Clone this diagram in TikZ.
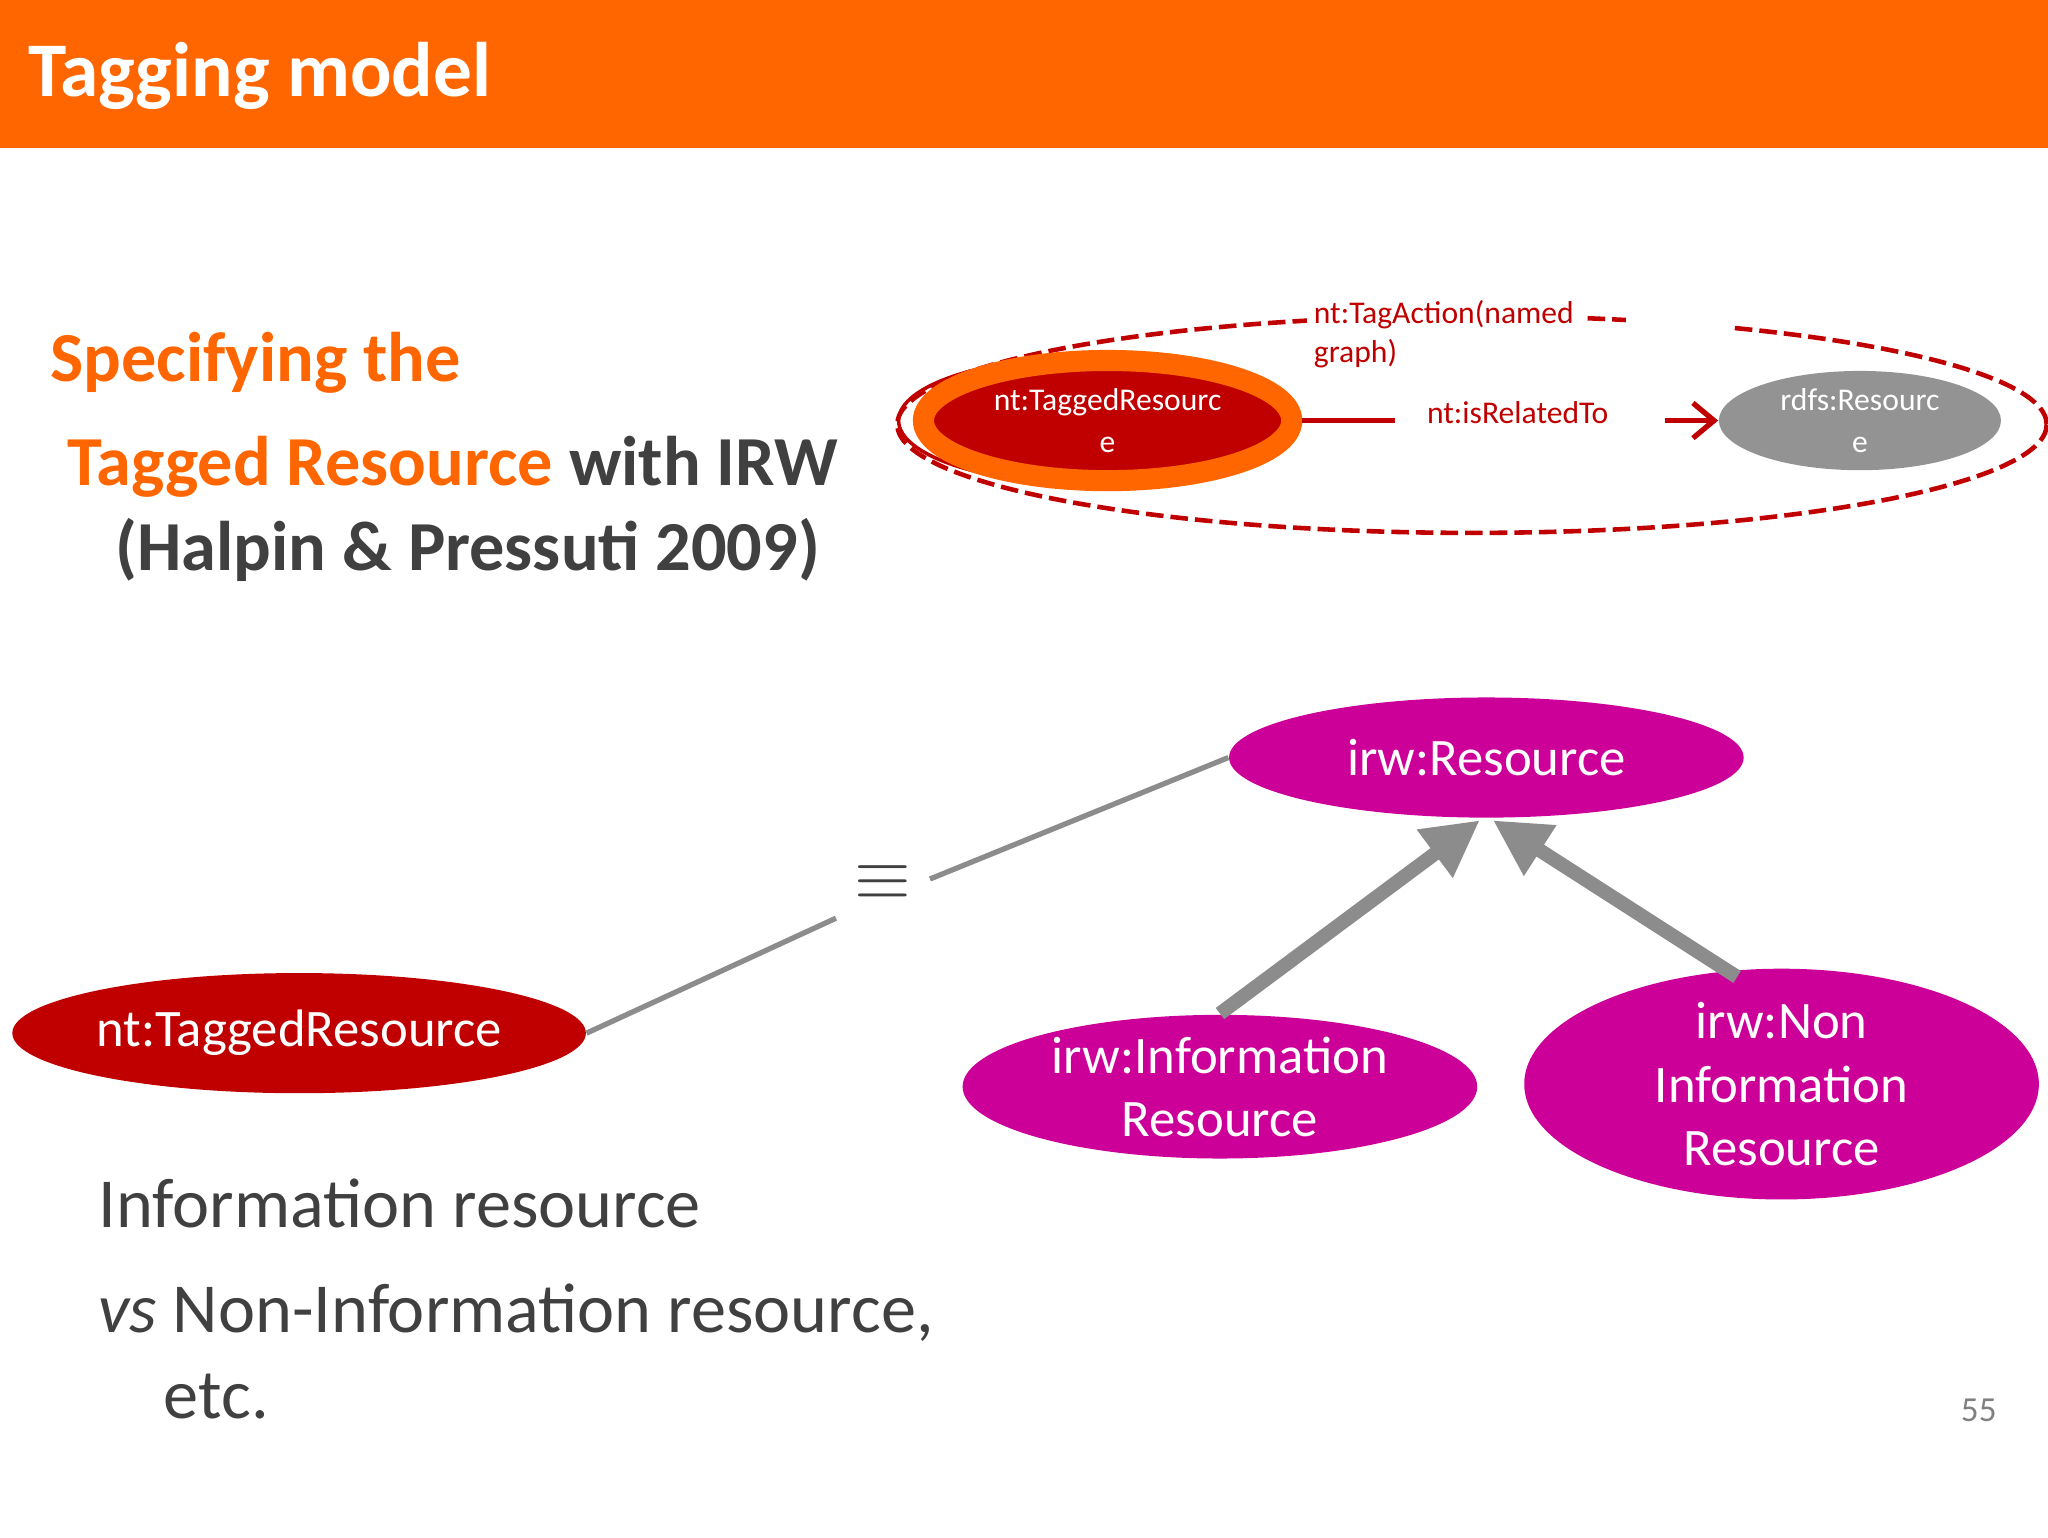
\documentclass[tikz,border=0pt]{standalone}
\usepackage{fontspec}
\setmainfont{Carlito}
\usetikzlibrary{shapes.geometric,arrows.meta}
\definecolor{slideorange}{HTML}{FF6600}
\definecolor{tagred}{HTML}{C00000}
\definecolor{irwpink}{HTML}{CC0099}
\definecolor{darktext}{HTML}{404040}
\tikzset{
  blob/.style={ellipse, draw=none, text=white, align=center, inner sep=0pt},
  tagtxt/.style={font=\fontsize{9}{11}\selectfont, text=tagred, align=left},
  subarrow/.style={draw=gray!90, line width=4pt, -{Triangle[length=16pt,width=16pt]}}
}
\begin{document}
\begin{tikzpicture}[x=0.01306cm, y=-0.01306cm]
  \useasboundingbox (0,0) rectangle (1568,1177);
  % header
  \fill[slideorange] (0,0) rectangle (1568,113);
  \node[anchor=west, text=white, font=\bfseries\fontsize{22}{26}\selectfont] (title) at (12,58) {Tagging model};
  % left text
  \node[anchor=base west, text=slideorange, font=\bfseries\fontsize{20}{24}\selectfont] (spec) at (29,292) {Specifying the};
  \node[anchor=base west, font=\bfseries\fontsize{20}{24}\selectfont] (tagged) at (42,372) {\textcolor{slideorange}{Tagged Resource} \textcolor{darktext}{with IRW}};
  \node[anchor=base west, text=darktext, font=\bfseries\fontsize{20}{24}\selectfont] (halpin) at (79,437) {(Halpin \& Pressuti 2009)};
  % named graph
  \draw[tagred, line width=1.3pt, dash pattern=on 5pt off 2pt] (1127,325) ellipse [x radius=440, y radius=83];
  \node[tagtxt, fill=white, anchor=north west, inner sep=2pt] (action) at (1000,224) {nt:TagAction(named\\graph)};
  \fill[white] (1245,225) rectangle (1325,262);
  \node[blob, draw=tagred, line width=1pt, fill=none, minimum width=300*0.01306cm, minimum height=98*0.01306cm] (shadowres) at (838,322) {};
  \node[blob, fill=tagred, draw=slideorange, line width=6pt, minimum width=282*0.01306cm, minimum height=92*0.01306cm, font=\fontsize{9}{12}\selectfont] (taggedres) at (848,322) {nt:TaggedResourc\\e};
  \node[blob, fill=gray!85, minimum width=216*0.01306cm, minimum height=76*0.01306cm, font=\fontsize{9}{12}\selectfont] (rdfsres) at (1424,322) {rdfs:Resourc\\e};
  \node[tagtxt] (related) at (1162,316) {nt:isRelatedTo};
  \draw[tagred, line width=1.5pt] (taggedres) -- (1068,322);
  \draw[tagred, line width=1.5pt, -{Straight Barb[length=6pt,width=10pt]}] (1275,322) -- (rdfsres);
  % irw hierarchy
  \node[blob, fill=irwpink, minimum width=394*0.01306cm, minimum height=92*0.01306cm, font=\fontsize{15}{18}\selectfont] (irwres) at (1138,580) {irw:Resource};
  \node[blob, fill=irwpink, minimum width=394*0.01306cm, minimum height=110*0.01306cm, font=\fontsize{15}{18}\selectfont] (irwinfo) at (934,832) {irw:Information\\Resource};
  \node[blob, fill=irwpink, minimum width=394*0.01306cm, minimum height=156*0.01306cm, font=\fontsize{15}{18}\selectfont] (irwnon) at (1364,830) {irw:Non\\Information\\Resource};
  \node[blob, fill=tagred, minimum width=394*0.01306cm, minimum height=92*0.01306cm, font=\fontsize{15}{18}\selectfont] (ntres) at (229,791) {nt:TaggedResource};
  \node[text=darktext, font=\bfseries\fontsize{22}{24}\selectfont] (equiv) at (676,676) {$\equiv$};
  \coordinate (eqlow) at (640,703);
  \coordinate (eqhigh) at (712,673);
  \draw[gray!90, line width=1.5pt] (ntres.east) -- (eqlow);
  \draw[gray!90, line width=1.5pt] (eqhigh) -- (irwres.west);
  \coordinate (infotop) at (934,776);
  \coordinate (nontop) at (1330,748);
  \draw[subarrow] (infotop) -- (1133,628);
  \draw[subarrow] (nontop) -- (1143,628);
  % bottom text
  \node[anchor=base west, text=darktext, font=\fontsize{20}{24}\selectfont] (info) at (66,940) {Information resource};
  \node[anchor=base west, text=darktext, font=\fontsize{20}{24}\selectfont] (vs) at (66,1020) {\textit{vs} Non-Information resource,};
  \node[anchor=base west, text=darktext, font=\fontsize{20}{24}\selectfont] (etc) at (116,1086) {etc.};
  \node[text=gray, font=\fontsize{10}{12}\selectfont] (page) at (1515,1080) {55};
\end{tikzpicture}
\end{document}
